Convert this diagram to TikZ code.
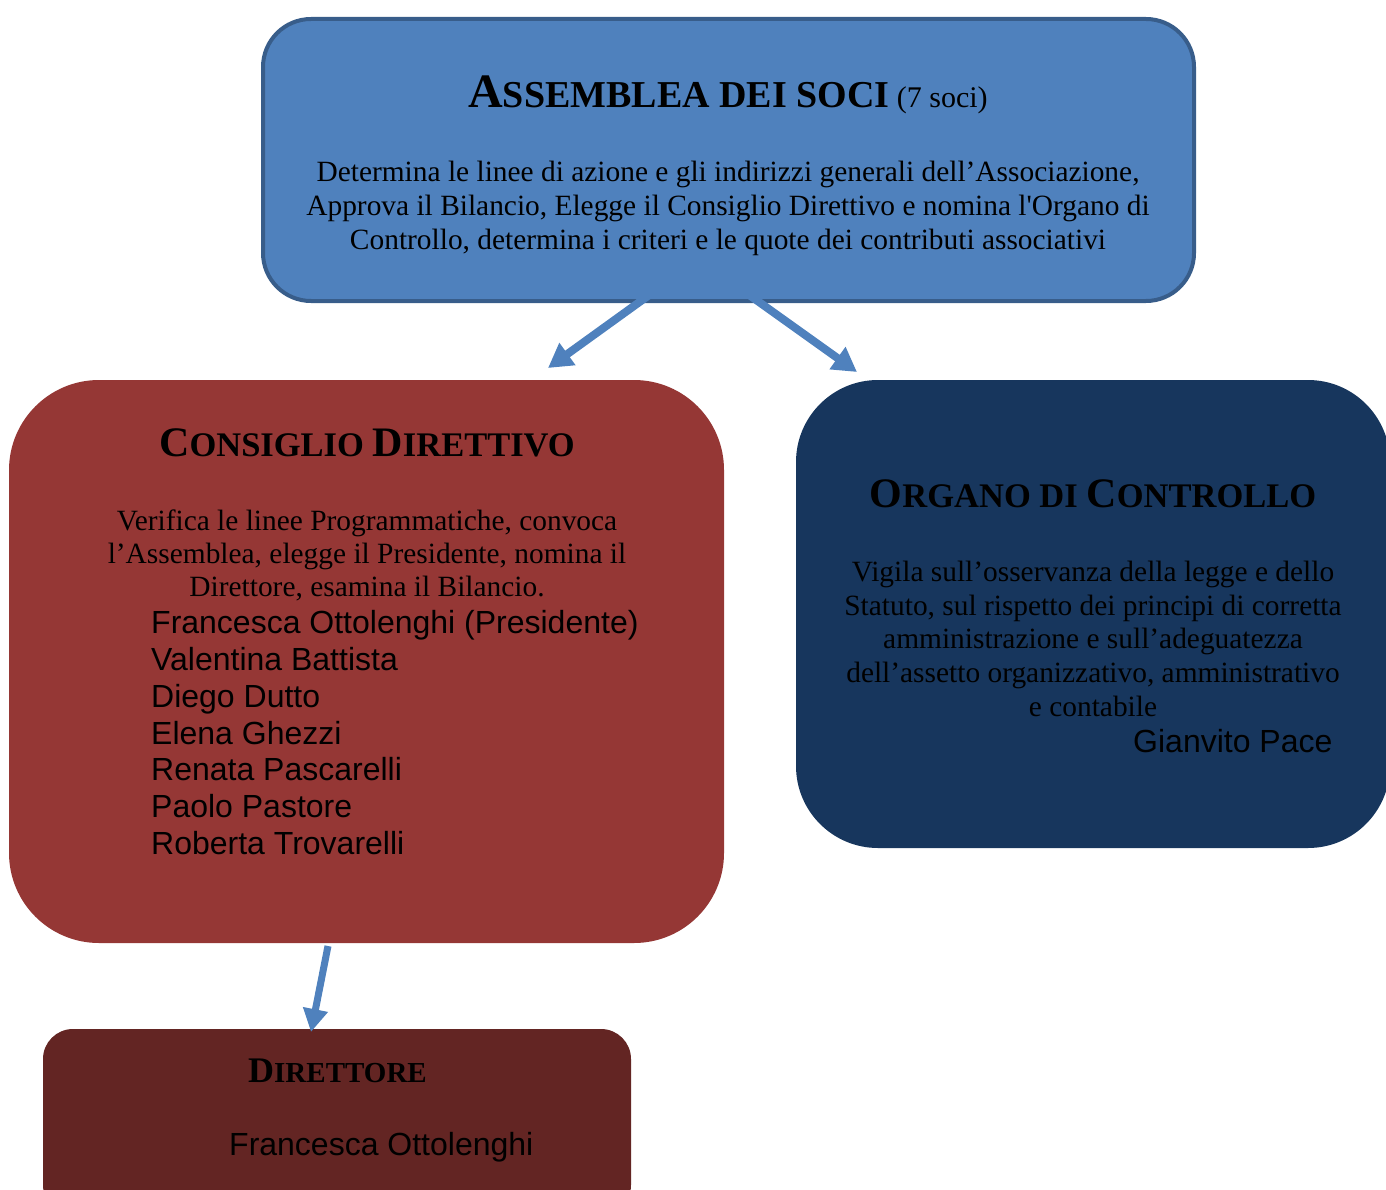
\documentclass[tikz,border=0pt]{standalone}
\usepackage{fontspec}
\setmainfont{Liberation Serif}
\setsansfont{Liberation Sans}
\newfontfamily\serifnomap{Liberation Serif}
\usetikzlibrary{arrows.meta}
\definecolor{asmfill}{HTML}{4F81BD}
\definecolor{asmline}{HTML}{385D8A}
\definecolor{cdfill}{HTML}{953735}
\definecolor{ocfill}{HTML}{17365D}
\definecolor{dirfill}{HTML}{632523}
\newcommand\fsc[4]{{\fontsize{#1}{#1}\selectfont #3}{\fontsize{#2}{#2}\selectfont #4}}
\newcommand\sq{{\serifnomap'}}
\begin{document}
\begin{tikzpicture}[x=1pt,y=-1pt,
  box/.style={rectangle, inner sep=0pt, outer sep=0pt},
  bodyline/.style={anchor=base, inner sep=0pt, font=\fontsize{29.4}{34}\selectfont},
  nameline/.style={anchor=base west, inner sep=0pt, font=\sffamily\fontsize{32}{37}\selectfont},
  titleline/.style={anchor=base, inner sep=0pt, font=\bfseries},
  arr/.style={draw=asmfill, line width=8pt, -{Triangle[width=26pt,length=24pt]}}]
\useasboundingbox (0,0) rectangle (1386,1190);
\clip (0,0) rectangle (1386,1190);

% boxes
\node[box, fill=asmfill, draw=asmline, line width=4pt, rounded corners=48pt,
      minimum width=931pt, minimum height=282pt] (asm) at (728.5,160) {};
\node[box, fill=cdfill, rounded corners=90pt,
      minimum width=715pt, minimum height=563pt] (cd) at (366.5,661.5) {};
\node[box, fill=ocfill, rounded corners=82pt,
      minimum width=594pt, minimum height=468pt] (oc) at (1093,614) {};
\node[box, fill=dirfill, rounded corners=30pt,
      minimum width=588pt, minimum height=186pt] (dir) at (337,1122) {};

% arrow end points
\coordinate (a1s) at (670,280);
\coordinate (a1e) at (548,368);
\coordinate (a2s) at (731,282);
\coordinate (a2e) at (857,372);
\coordinate (a3s) at (328,946);
\coordinate (a3e) at (311,1032);
\draw[arr] (a1s) -- (a1e);
\draw[arr] (a2s) -- (a2e);
\draw[arr, line width=7pt, -{Triangle[width=24pt,length=23pt]}] (a3s) -- (a3e);

% Assemblea
\node[titleline] (asmT) at (728,108)
  {\fsc{48}{38}{A}{SSEMBLEA DEI SOCI}{\mdseries\fontsize{30}{30}\selectfont\ (7 soci)}};
\node[bodyline] (asmL1) at (728,182) {Determina le linee di azione e gli indirizzi generali dell’Associazione,};
\node[bodyline] (asmL2) at (728,216) {Approva il Bilancio, Elegge il Consiglio Direttivo e nomina l\sq Organo di};
\node[bodyline] (asmL3) at (728,250) {Controllo, determina i criteri e le quote dei contributi associativi};

% Consiglio Direttivo
\node[titleline] (cdT) at (367,456) {\fsc{42}{34.5}{C}{ONSIGLIO }\fsc{42}{34.5}{D}{IRETTIVO}};
\node[bodyline] (cdL1) at (367,530) {Verifica le linee Programmatiche, convoca};
\node[bodyline] (cdL2) at (367,563) {l’Assemblea, elegge il Presidente, nomina il};
\node[bodyline] (cdL3) at (367,596) {Direttore, esamina il Bilancio.};
\node[nameline] (cdN1) at (151,633) {Francesca Ottolenghi (Presidente)};
\node[nameline] (cdN2) at (151,670) {Valentina Battista};
\node[nameline] (cdN3) at (151,707) {Diego Dutto};
\node[nameline] (cdN4) at (151,744) {Elena Ghezzi};
\node[nameline] (cdN5) at (151,780) {Renata Pascarelli};
\node[nameline] (cdN6) at (151,817) {Paolo Pastore};
\node[nameline] (cdN7) at (151,854) {Roberta Trovarelli};

% Organo di Controllo
\node[titleline] (ocT) at (1093,507) {\fsc{42}{34.5}{O}{RGANO DI }\fsc{42}{34.5}{C}{ONTROLLO}};
\node[bodyline] (ocL1) at (1093,581) {Vigila sull’osservanza della legge e dello};
\node[bodyline] (ocL2) at (1093,615) {Statuto, sul rispetto dei principi di corretta};
\node[bodyline] (ocL3) at (1093,648) {amministrazione e sull’adeguatezza};
\node[bodyline] (ocL4) at (1093,682) {dell’assetto organizzativo, amministrativo};
\node[bodyline] (ocL5) at (1093,716) {e contabile};
\node[nameline] (ocN) at (1133,752) {Gianvito Pace};

% Direttore
\node[titleline] (dirT) at (337.5,1082) {\fsc{36}{29}{D}{IRETTORE}};
\node[nameline] (dirN) at (229,1155) {Francesca Ottolenghi};
\end{tikzpicture}
\end{document}
